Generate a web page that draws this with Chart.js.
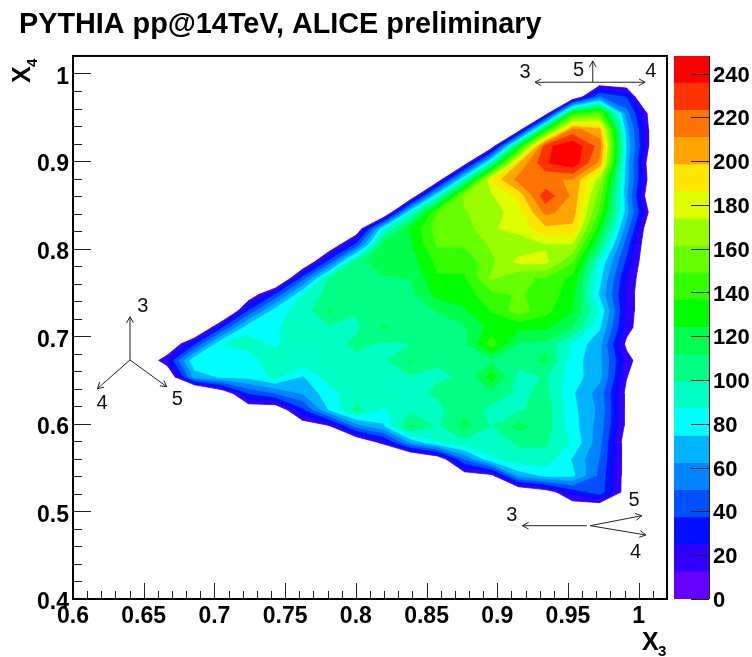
<!DOCTYPE html>
<html>
<head>
<meta charset="utf-8">
<title>PYTHIA pp@14TeV, ALICE preliminary</title>
<script src="https://cdn.jsdelivr.net/npm/chart.js@4"></script>
<style>
body { margin: 0; background: #fff; }
canvas { position: absolute; top: 0; }
#main-chart { left: 0; }
#scale-chart { left: 660px; }
</style>
</head>
<body>
<canvas id="main-chart" width="752" height="657"></canvas>
<canvas id="scale-chart" width="92" height="657"></canvas>
<script>
var titleText = 'PYTHIA pp@14TeV, ALICE preliminary';
var labelFont = '"Liberation Sans", Arial, sans-serif';

var x3Ticks = [0.6, 0.65, 0.7, 0.75, 0.8, 0.85, 0.9, 0.95, 1];
var x3TickLabels = ['0.6', '0.65', '0.7', '0.75', '0.8', '0.85', '0.9', '0.95', '1'];
var x4Ticks = [0.4, 0.5, 0.6, 0.7, 0.8, 0.9, 1];
var x4TickLabels = ['0.4', '0.5', '0.6', '0.7', '0.8', '0.9', '1'];
var scaleTicks = [0, 20, 40, 60, 80, 100, 120, 140, 160, 180, 200, 220, 240];

/* bin centres of the histogram */
var x3Bins = [0.6095, 0.6286, 0.6477, 0.6668, 0.6859, 0.7050, 0.7241, 0.7432, 0.7623, 0.7814, 0.8005,
              0.8195, 0.8386, 0.8577, 0.8768, 0.8959, 0.9150, 0.9341, 0.9532, 0.9723, 0.9914, 1.0105];
var x4Bins = [1.0106, 0.9919, 0.9731, 0.9543, 0.9355, 0.9167, 0.8979, 0.8791, 0.8603, 0.8415, 0.8227,
              0.8040, 0.7852, 0.7664, 0.7476, 0.7288, 0.7100, 0.6912, 0.6724, 0.6536, 0.6349, 0.6161,
              0.5973, 0.5785, 0.5597, 0.5409, 0.5221, 0.5033, 0.4845];

/* counts, one row per x4 bin. below zero = outside the triangle,
   the size only says where the outer edge falls inside a cell */
var _ = -100;
var counts = [
  [_,_,_,_,_,_,_,_,_,_,_,_,_,_,_,_,_,_,_,_,_,_],
  [_,_,_,_,_,_,_,_,_,_,_,_,_,_,_,_,_,_,_,-5,-7,_],
  [_,_,_,_,_,_,_,_,_,_,_,_,_,_,_,_,_,_,-9,50,36,-38],
  [_,_,_,_,_,_,_,_,_,_,_,_,_,_,_,_,_,0,135,150,55,-1],
  [_,_,_,_,_,_,_,_,_,_,_,_,_,_,_,_,1,130,215,203,67,0],
  [_,_,_,_,_,_,_,_,_,_,_,_,_,_,_,0,125,232,245,218,72,-1],
  [_,_,_,_,_,_,_,_,_,_,_,_,_,_,0,95,198,234,245,207,67,-9],
  [_,_,_,_,_,_,_,_,_,_,_,_,_,-4,90,188,215,212,210,168,67,-5],
  [_,_,_,_,_,_,_,_,_,_,_,_,-10,85,165,172,190,231,208,155,63,-13],
  [_,_,_,_,_,_,_,_,_,_,_,-21,85,150,160,168,180,214,205,145,67,-1],
  [_,_,_,_,_,_,_,_,_,_,-5,85,125,155,155,172,178,195,195,128,55,-13],
  [_,_,_,_,_,_,_,_,_,-5,42,118,122,150,150,163,165,172,172,108,42,-13],
  [_,_,_,_,_,_,_,_,-13,42,108,118,118,140,140,158,177,177,150,85,34,-13],
  [_,_,_,_,_,_,_,-27,42,100,110,110,112,135,135,163,150,148,132,78,24,-9],
  [_,_,_,_,_,_,-3,38,87,105,105,110,108,128,130,145,150,145,128,72,21,-9],
  [_,_,_,_,_,-27,38,82,92,113,100,104,106,112,122,137,155,140,125,85,21,-9],
  [_,_,_,_,-26,34,84,85,95,97,97,113,105,108,110,128,127,126,112,76,19,-9],
  [_,_,_,-9,34,87,90,85,95,95,102,97,99,106,108,143,111,108,85,65,8,-9],
  [_,_,-10,23,85,80,83,92,95,95,96,97,113,100,105,109,104,115,80,65,19,-9],
  [_,_,_,-9,67,76,78,90,73,92,95,97,98,98,100,130,95,100,80,66,13,-9],
  [_,_,_,_,-45,-6,38,50,63,82,95,97,96,101,104,108,96,103,76,56,8,_],
  [_,_,_,_,_,_,-2,-4,34,76,103,85,96,96,108,95,97,106,78,59,8,_],
  [_,_,_,_,_,_,_,_,0,10,55,72,114,97,116,98,116,105,80,56,8,_],
  [_,_,_,_,_,_,_,_,_,-38,-11,17,63,85,95,92,101,101,85,53,2,_],
  [_,_,_,_,_,_,_,_,_,_,_,-38,-26,-5,50,85,94,95,73,49,4,_],
  [_,_,_,_,_,_,_,_,_,_,_,_,_,_,1,7,66,77,77,46,4,_],
  [_,_,_,_,_,_,_,_,_,_,_,_,_,_,_,-38,-13,1,29,44,4,_],
  [_,_,_,_,_,_,_,_,_,_,_,_,_,_,_,_,_,-38,-2,-5,-13,_],
  [_,_,_,_,_,_,_,_,_,_,_,_,_,_,_,_,_,_,_,_,_,_]
];

/* contour bands, bottom to top */
var bandStep = 12.4;
var bandColors = ['#6400ff', '#3000ff', '#0010ff', '#0050ff', '#0084ff', '#00b4ff', '#00ffff', '#00ffc4', '#00ff84', '#00ff4c',
                  '#00ff00', '#33ff00', '#66ff00', '#99ff00', '#ddff00', '#ffe600', '#ffa500', '#ff7300', '#ff3300', '#ff0000'];

/* little direction sketches: x1, y1, x2, y2 in axis units, arrow at the second end */
var sketchArrows = [
  [0.6403, 0.6729, 0.6403, 0.7223],
  [0.6403, 0.6729, 0.6172, 0.6401],
  [0.6403, 0.6729, 0.6663, 0.6424],
  [0.9675, 0.99, 0.9267, 0.99],
  [0.9675, 0.99, 1.0045, 0.99],
  [0.9675, 0.99, 0.9675, 1.0143],
  [0.9633, 0.4837, 0.9178, 0.4837],
  [0.9656, 0.4837, 1.0022, 0.4951],
  [0.9656, 0.4837, 1.005, 0.4731]
];
var sketchLabels = [
  ['3', 0.6493, 0.7338], ['4', 0.6205, 0.6227], ['5', 0.6738, 0.628],
  ['3', 0.9197, 1.0006], ['5', 0.9574, 1.0029], ['4', 1.0086, 1.0021],
  ['3', 0.9102, 0.4959], ['5', 0.9967, 0.513], ['4', 0.9977, 0.4529]
];

/* part of one grid cell where the count is at least level */
function cellPolygon(corners, level){
    var pts = [];
    for(var i = 0; i < 4; i++){
        var a = corners[i];
        var b = corners[(i + 1) % 4];
        if(a.z >= level){
            pts.push({x: a.x, y: a.y});
        }
        if((a.z >= level) != (b.z >= level)){
            var t = (level - a.z) / (b.z - a.z);
            pts.push({x: a.x + (b.x - a.x) * t, y: a.y + (b.y - a.y) * t});
        }
    }
    return pts;
}

function bandPoints(level){
    var data = [];
    for(var r = 0; r < x4Bins.length - 1; r++){
        for(var c = 0; c < x3Bins.length - 1; c++){
            var pts = cellPolygon([
                {x: x3Bins[c], y: x4Bins[r], z: counts[r][c]},
                {x: x3Bins[c + 1], y: x4Bins[r], z: counts[r][c + 1]},
                {x: x3Bins[c + 1], y: x4Bins[r + 1], z: counts[r + 1][c + 1]},
                {x: x3Bins[c], y: x4Bins[r + 1], z: counts[r + 1][c]}
            ], level);
            if(pts.length > 2){
                pts.push(pts[0]);
                data = data.concat(pts);
                data.push({x: null, y: null});
            }
        }
    }
    return data;
}

/* the lowest band is only on the palette, nothing below the second level gets painted */
var contourDatasets = [];
for(var k = 1; k < bandColors.length; k++){
    contourDatasets.push({
        data: bandPoints(k * bandStep),
        showLine: true,
        fill: 'shape',
        spanGaps: false,
        backgroundColor: bandColors[k],
        borderColor: bandColors[k],
        borderWidth: 0.8,
        pointRadius: 0,
        order: -k
    });
}

function tickLine(ctx, x1, y1, x2, y2){
    ctx.beginPath();
    ctx.moveTo(x1, y1);
    ctx.lineTo(x2, y2);
    ctx.stroke();
}

/* inward ticks and frame like the ROOT canvas */
var frameAndTicks = {
    id: 'frameAndTicks',
    afterDatasetsDraw: function(chart){
        var ctx = chart.ctx;
        var xs = chart.scales.x;
        var ys = chart.scales.y;
        var area = chart.chartArea;
        ctx.save();
        ctx.strokeStyle = '#222';
        ctx.lineWidth = 1;
        for(var i = 0; i < 43; i++){
            var xv = 0.6 + i * 0.01;
            var px = Math.round(xs.getPixelForValue(xv)) + 0.5;
            tickLine(ctx, px, area.bottom, px, area.bottom - (i % 5 == 0 ? 16 : 8));
        }
        for(var j = 0; j < 32; j++){
            var yv = 0.4 + j * 0.02;
            var py = Math.round(ys.getPixelForValue(yv)) + 0.5;
            tickLine(ctx, area.left, py, area.left + (j % 5 == 0 ? 18 : 9), py);
        }
        ctx.strokeStyle = '#000';
        ctx.lineWidth = 2;
        ctx.strokeRect(area.left, area.top, area.right - area.left, area.bottom - area.top);

        /* direction sketches */
        ctx.strokeStyle = '#222';
        ctx.lineWidth = 1;
        sketchArrows.forEach(function(a){
            var x1 = xs.getPixelForValue(a[0]), y1 = ys.getPixelForValue(a[1]);
            var x2 = xs.getPixelForValue(a[2]), y2 = ys.getPixelForValue(a[3]);
            var ang = Math.atan2(y2 - y1, x2 - x1);
            tickLine(ctx, x1, y1, x2, y2);
            tickLine(ctx, x2, y2, x2 - 7 * Math.cos(ang - 0.5), y2 - 7 * Math.sin(ang - 0.5));
            tickLine(ctx, x2, y2, x2 - 7 * Math.cos(ang + 0.5), y2 - 7 * Math.sin(ang + 0.5));
        });
        ctx.fillStyle = '#111';
        ctx.font = '20px ' + labelFont;
        ctx.textAlign = 'center';
        ctx.textBaseline = 'middle';
        sketchLabels.forEach(function(l){
            ctx.fillText(l[0], xs.getPixelForValue(l[1]), ys.getPixelForValue(l[2]));
        });

        /* axis titles */
        ctx.fillStyle = '#000';
        ctx.textAlign = 'left';
        ctx.textBaseline = 'alphabetic';
        ctx.font = 'bold 25px ' + labelFont;
        ctx.fillText('X', 642, 650);
        ctx.font = 'bold 15px ' + labelFont;
        ctx.fillText('3', 658, 656);
        ctx.save();
        ctx.translate(30, 83);
        ctx.rotate(-Math.PI / 2);
        ctx.font = 'bold 25px ' + labelFont;
        ctx.fillText('X', 0, 0);
        ctx.font = 'bold 15px ' + labelFont;
        ctx.fillText('4', 16, 7);
        ctx.restore();
        ctx.restore();
    }
};

var mainChart = new Chart(document.getElementById('main-chart'), {
    type: 'scatter',
    data: {datasets: contourDatasets},
    options: {
        responsive: false,
        animation: false,
        layout: {padding: {left: 19, right: 85, top: 0, bottom: 0}},
        plugins: {
            legend: {display: false},
            tooltip: {enabled: false},
            title: {
                display: true,
                text: titleText,
                align: 'start',
                color: '#000',
                font: {family: labelFont, size: 28.8, weight: 'bold', lineHeight: 1.2},
                padding: {top: 8, bottom: 13.4}
            }
        },
        scales: {
            x: {
                type: 'linear',
                min: 0.6,
                max: 1.02,
                grid: {display: false, drawTicks: false},
                border: {display: false},
                afterBuildTicks: function(axis){
                    axis.ticks = x3Ticks.map(function(v){ return {value: v}; });
                },
                afterFit: function(axis){ axis.height = 58; },
                ticks: {
                    autoSkip: false,
                    maxRotation: 0,
                    padding: 4,
                    color: '#000',
                    font: {family: labelFont, size: 23, weight: 'bold'},
                    callback: function(v, i){ return x3TickLabels[i]; }
                }
            },
            y: {
                type: 'linear',
                min: 0.4,
                max: 1.02,
                grid: {display: false, drawTicks: false},
                border: {display: false},
                afterBuildTicks: function(axis){
                    axis.ticks = x4Ticks.map(function(v){ return {value: v}; });
                },
                afterFit: function(axis){ axis.width = 54; },
                ticks: {
                    autoSkip: false,
                    padding: 4,
                    labelOffset: 4,
                    color: '#000',
                    font: {family: labelFont, size: 23, weight: 'bold'},
                    callback: function(v, i){ return x4TickLabels[i]; }
                }
            }
        }
    },
    plugins: [frameAndTicks]
});

/* palette bar */
var scaleDatasets = [];
for(var b = 0; b < bandColors.length; b++){
    scaleDatasets.push({
        data: [bandStep],
        backgroundColor: bandColors[b],
        borderWidth: 0,
        barPercentage: 1,
        categoryPercentage: 1
    });
}

var scaleTickMarks = {
    id: 'scaleTickMarks',
    afterDatasetsDraw: function(chart){
        var ctx = chart.ctx;
        var area = chart.chartArea;
        var ys = chart.scales.y;
        ctx.save();
        ctx.strokeStyle = '#222';
        ctx.lineWidth = 1;
        scaleTicks.forEach(function(v){
            var py = Math.round(ys.getPixelForValue(v)) + 0.5;
            tickLine(ctx, area.right - 18, py, area.right, py);
        });
        tickLine(ctx, area.right + 0.5, area.top, area.right + 0.5, area.bottom);
        ctx.restore();
    }
};

var scaleChart = new Chart(document.getElementById('scale-chart'), {
    type: 'bar',
    data: {labels: ['counts'], datasets: scaleDatasets},
    options: {
        responsive: false,
        animation: false,
        layout: {padding: {left: 14, right: 0, top: 56, bottom: 58}},
        plugins: {legend: {display: false}, tooltip: {enabled: false}},
        scales: {
            x: {stacked: true, display: false},
            y: {
                stacked: true,
                position: 'right',
                min: 0,
                max: 248,
                grid: {display: false, drawTicks: false},
                border: {display: false},
                afterBuildTicks: function(axis){
                    axis.ticks = scaleTicks.map(function(v){ return {value: v}; });
                },
                afterFit: function(axis){ axis.width = 43; },
                ticks: {
                    autoSkip: false,
                    padding: 4,
                    labelOffset: 2,
                    color: '#000',
                    font: {family: labelFont, size: 22, weight: 'bold'}
                }
            }
        }
    },
    plugins: [scaleTickMarks]
});
</script>
</body>
</html>
